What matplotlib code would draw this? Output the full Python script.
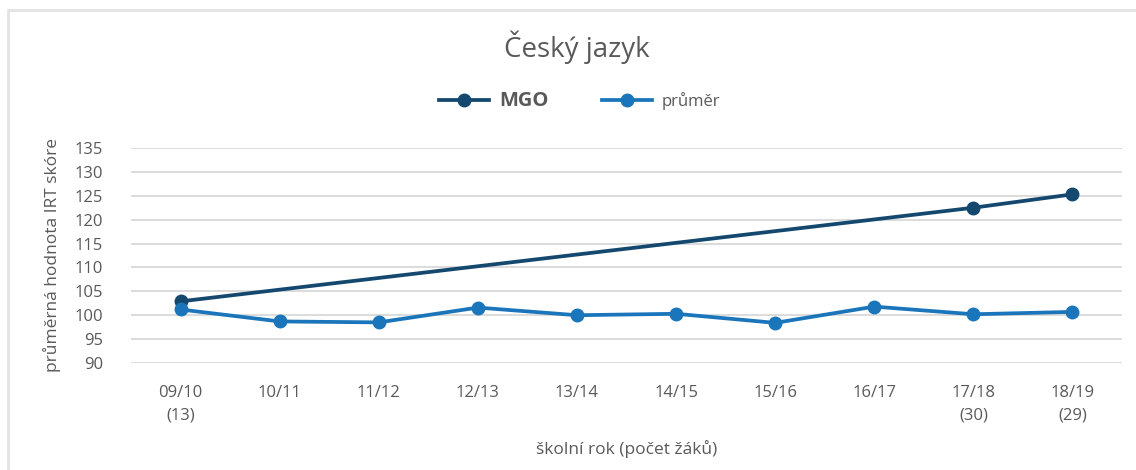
import matplotlib
matplotlib.use("Agg")
import matplotlib.pyplot as plt
import numpy as np
from matplotlib.patches import Rectangle

# ---- data ---------------------------------------------------------------
years = ["09/10\n(13)", "10/11", "11/12", "12/13", "13/14", "14/15",
         "15/16", "16/17", "17/18\n(30)", "18/19\n(29)"]
mgo = [102.9, None, None, None, None, None, None, None, 122.5, 125.3]
prumer = [101.2, 98.7, 98.5, 101.6, 100.0, 100.3, 98.4, 101.8, 100.2, 100.7]

C_MGO = "#14486F"
C_AVG = "#1A75BB"
TXT = "#595959"

plt.rcParams.update({
    "font.family": ["Open Sans", "DejaVu Sans"],
    "axes.unicode_minus": False,
})

fig = plt.figure(figsize=(11.36, 4.70), dpi=100)
ax = fig.add_axes([131 / 1136, 1 - 363 / 470, (1122 - 131) / 1136, (363 - 148) / 470])

# chart border (clipped by the image on right and bottom)
fig.patches.append(Rectangle((7.5 / 1136, -0.1), 1.2, 1 - 9.5 / 470 + 0.1,
                             transform=fig.transFigure, fill=False,
                             edgecolor="#E3E3E3", lw=2, zorder=0))

x = np.arange(len(years))
m_x = [i for i, v in enumerate(mgo) if v is not None]
m_y = [v for v in mgo if v is not None]

ax.plot(m_x, m_y, color=C_MGO, lw=2.7, marker="o", ms=9, label="MGO", zorder=3)
ax.plot(x, prumer, color=C_AVG, lw=2.7, marker="o", ms=9, label="průměr", zorder=3)

ax.set_xlim(-0.5, len(years) - 0.5)
ax.set_ylim(90, 135)
ax.set_yticks(np.arange(90, 136, 5))
ax.set_xticks(x)
ax.set_xticklabels(years, linespacing=1.55)
ax.tick_params(axis="both", length=0, colors=TXT, labelsize=12)
ax.tick_params(axis="x", pad=16)
ax.tick_params(axis="y", pad=20)
ax.grid(axis="y", color="#D9D9D9", lw=1.3)
ax.set_axisbelow(True)
for s in ax.spines.values():
    s.set_visible(False)

ax.set_xlabel("školní rok (počet žáků)", color=TXT, fontsize=12.5, labelpad=12)
ax.set_ylabel("průměrná hodnota IRT skóre", color=TXT, fontsize=12.5, labelpad=10)

fig.text(577 / 1136, 1 - 47 / 470, "Český jazyk", ha="center", va="center",
         color=TXT, fontsize=20)

leg = ax.legend(loc="center", bbox_to_anchor=(580 / 1136, 1 - 101 / 470),
                bbox_transform=fig.transFigure, ncol=2, frameon=False,
                handlelength=3.0, columnspacing=3.2, handletextpad=0.6,
                fontsize=12)
leg.get_texts()[0].set_fontsize(14.5)
leg.get_texts()[0].set_fontweight("bold")
for t in leg.get_texts():
    t.set_color(TXT)

fig.savefig("out.png", dpi=100, facecolor="white")
